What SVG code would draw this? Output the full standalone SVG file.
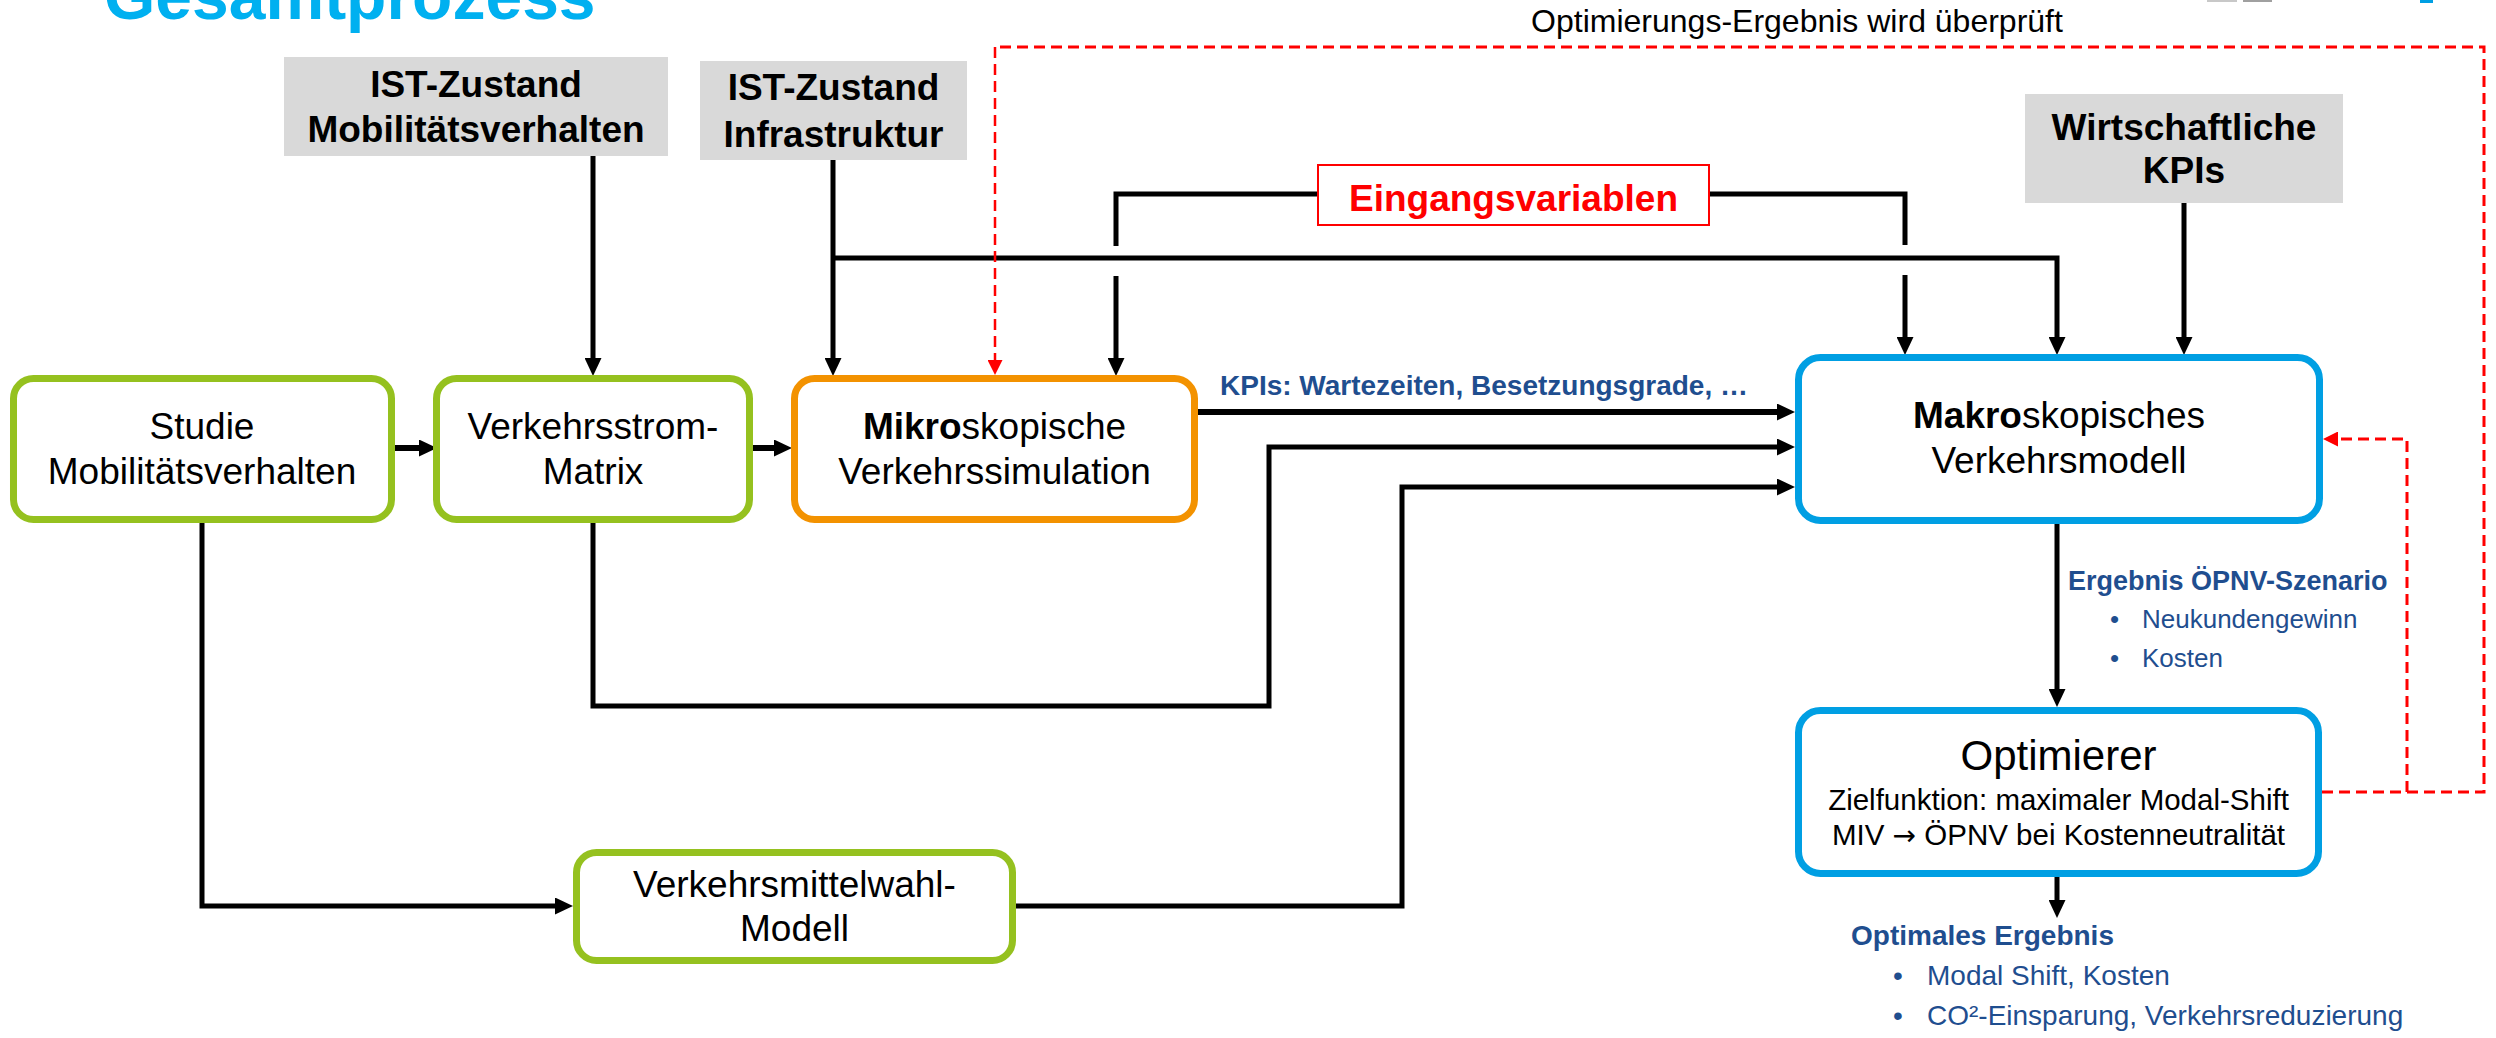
<svg xmlns="http://www.w3.org/2000/svg" width="2496" height="1038" viewBox="0 0 2496 1038">
<defs>
<style>
text{font-family:"Liberation Sans",Arial,sans-serif;fill:#000}
.b{font-weight:bold}
.c{text-anchor:middle}
.box{fill:#fff;stroke-width:7}
.g{stroke:#95C11F}
.o{stroke:#F39200}
.bl{stroke:#009FE3}
.gray{fill:#D9D9D9}
.ln{fill:none;stroke:#000;stroke-width:5;stroke-linejoin:miter}
.th{stroke-width:6}
.rd{fill:none;stroke:#FF0000;stroke-width:3;stroke-dasharray:11 6}
.blue{fill:#1F4E8F}
</style>
<marker id="ah" markerUnits="userSpaceOnUse" markerWidth="18" markerHeight="17" refX="8" refY="8.5" orient="auto">
<path d="M0,0 L18,8.5 L0,17 z" fill="#000"/>
</marker>
<marker id="rh" markerUnits="userSpaceOnUse" markerWidth="15" markerHeight="15" refX="6" refY="7.5" orient="auto">
<path d="M0,0 L15,7.5 L0,15 z" fill="#FF0000"/>
</marker>
</defs>
<rect width="2496" height="1038" fill="#fff"/>
<rect x="2207" y="0" width="30" height="2" fill="#C8C8C8"/>
<rect x="2243" y="0" width="29" height="2" fill="#A0A0A0"/>
<rect x="2420" y="0" width="13" height="3" fill="#009FE3"/>

<text id="title" x="104" y="19" class="b" font-size="66" style="fill:#00B0F0">Gesamtprozess</text>

<g id="connectors">
<path class="ln" d="M593,156 V366" marker-end="url(#ah)"/>
<path class="ln" d="M833,160 V366" marker-end="url(#ah)"/>
<path class="ln" d="M833,258 H2057 V345" marker-end="url(#ah)"/>
<path class="ln" d="M1116,246 V194 H1318"/>
<path class="ln" d="M1709,194 H1905 V245"/>
<path class="ln" d="M1116,276 V366" marker-end="url(#ah)"/>
<path class="ln" d="M1905,275 V345" marker-end="url(#ah)"/>
<path class="ln" d="M2184,203 V345" marker-end="url(#ah)"/>
<path class="ln th" d="M1198,412 H1785" marker-end="url(#ah)"/>
<path class="ln" d="M593,523 V706 H1269 V447 H1785" marker-end="url(#ah)"/>
<path class="ln" d="M1016,906 H1402 V487 H1785" marker-end="url(#ah)"/>
<path class="ln" d="M202,523 V906 H563" marker-end="url(#ah)"/>
<path class="ln th" d="M395,448 H427" marker-end="url(#ah)"/>
<path class="ln th" d="M753,448 H782" marker-end="url(#ah)"/>
<path class="ln" d="M2057,524 V697" marker-end="url(#ah)"/>
<path class="ln" d="M2057,877 V908" marker-end="url(#ah)"/>
<path class="rd" d="M2322,792 H2484 V47 H995"/>
<path class="rd" d="M995,47 V366" style="stroke-width:2.5" marker-end="url(#rh)"/>
<path class="rd" d="M2407,792 V439 H2332" marker-end="url(#rh)"/>
</g>

<text id="label-check" x="1797" y="32" class="c" font-size="32">Optimierungs-Ergebnis wird überprüft</text>

<g id="ist-mob">
<rect class="gray" x="284" y="57" width="384" height="99"/>
<text x="476" y="97" class="b c" font-size="37">IST-Zustand</text>
<text x="476" y="142" class="b c" font-size="37">Mobilitätsverhalten</text>
</g>

<g id="ist-infra">
<rect class="gray" x="700" y="61" width="267" height="99"/>
<text x="833.5" y="100" class="b c" font-size="37">IST-Zustand</text>
<text x="833.5" y="147" class="b c" font-size="37">Infrastruktur</text>
</g>

<g id="wirt-kpis">
<rect class="gray" x="2025" y="94" width="318" height="109"/>
<text x="2184" y="140" class="b c" font-size="37">Wirtschaftliche</text>
<text x="2184" y="183" class="b c" font-size="37">KPIs</text>
</g>

<g id="eingang">
<rect x="1318" y="165" width="391" height="60" fill="#fff" stroke="#FF0000" stroke-width="2"/>
<text x="1513.5" y="211" class="b c" font-size="37" style="fill:#FF0000">Eingangsvariablen</text>
</g>

<g id="studie">
<rect class="box g" x="13.5" y="378.5" width="378" height="141" rx="20"/>
<text x="202" y="439" class="c" font-size="37">Studie</text>
<text x="202" y="484" class="c" font-size="37">Mobilitätsverhalten</text>
</g>

<g id="matrix">
<rect class="box g" x="436.5" y="378.5" width="313" height="141" rx="20"/>
<text x="593" y="439" class="c" font-size="37">Verkehrsstrom-</text>
<text x="593" y="484" class="c" font-size="37">Matrix</text>
</g>

<g id="mikro">
<rect class="box o" x="794.5" y="378.5" width="400" height="141" rx="20"/>
<text x="994.5" y="439" class="c" font-size="37"><tspan class="b">Mikro</tspan>skopische</text>
<text x="994.5" y="484" class="c" font-size="37">Verkehrssimulation</text>
</g>

<g id="makro">
<rect class="box bl" x="1798.5" y="357.5" width="521" height="163" rx="22"/>
<text x="2059" y="428" class="c" font-size="37"><tspan class="b">Makro</tspan>skopisches</text>
<text x="2059" y="473" class="c" font-size="37">Verkehrsmodell</text>
</g>

<g id="optimierer">
<rect class="box bl" x="1798.5" y="710.5" width="520" height="163" rx="22"/>
<text x="2058.5" y="770" class="c" font-size="42">Optimierer</text>
<text x="2058.5" y="810" class="c" font-size="29.5">Zielfunktion: maximaler Modal-Shift</text>
<text x="2058.5" y="845" class="c" font-size="29.5">MIV <tspan style="font-family:'DejaVu Sans',sans-serif" font-size="28">→</tspan> ÖPNV bei Kostenneutralität</text>
</g>

<g id="modalwahl">
<rect class="box g" x="576.5" y="852.5" width="436" height="108" rx="20"/>
<text x="794.5" y="897" class="c" font-size="37">Verkehrsmittelwahl-</text>
<text x="794.5" y="941" class="c" font-size="37">Modell</text>
</g>

<g id="kpi-label">
<text x="1220" y="395" class="b blue" font-size="28">KPIs: Wartezeiten, Besetzungsgrade, …</text>
</g>

<g id="ergebnis-oepnv">
<text x="2068" y="590" class="b blue" font-size="27">Ergebnis ÖPNV-Szenario</text>
<text x="2110" y="628" class="blue" font-size="26">•</text>
<text x="2142" y="628" class="blue" font-size="26">Neukundengewinn</text>
<text x="2110" y="667" class="blue" font-size="26">•</text>
<text x="2142" y="667" class="blue" font-size="26">Kosten</text>
</g>

<g id="optimal">
<text x="1851" y="945" class="b blue" font-size="28">Optimales Ergebnis</text>
<text x="1893" y="985" class="blue" font-size="28">•</text>
<text x="1927" y="985" class="blue" font-size="28">Modal Shift, Kosten</text>
<text x="1893" y="1025" class="blue" font-size="28">•</text>
<text x="1927" y="1025" class="blue" font-size="28">CO²-Einsparung, Verkehrsreduzierung</text>
</g>
</svg>
